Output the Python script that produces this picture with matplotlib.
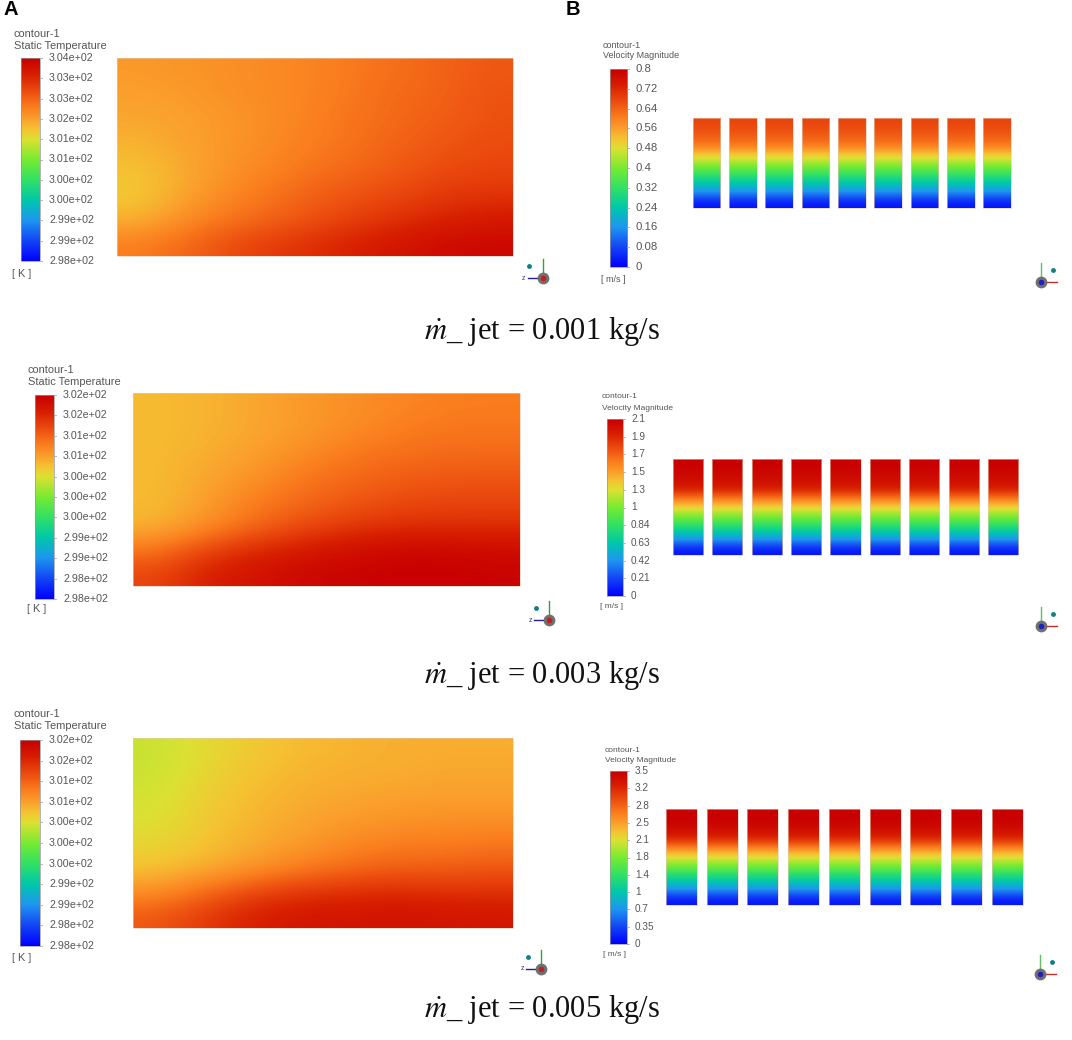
import numpy as np
import matplotlib
matplotlib.use("Agg")
import matplotlib.pyplot as plt
from matplotlib.colors import LinearSegmentedColormap

# ---------- data ----------
temp_labels_1 = ["3.04e+02", "3.03e+02", "3.03e+02", "3.02e+02", "3.01e+02", "3.01e+02",
                 "3.00e+02", "3.00e+02", "2.99e+02", "2.99e+02", "2.98e+02"]
temp_labels_2 = ["3.02e+02", "3.02e+02", "3.01e+02", "3.01e+02", "3.00e+02", "3.00e+02",
                 "3.00e+02", "2.99e+02", "2.99e+02", "2.98e+02", "2.98e+02"]
temp_labels_3 = ["3.02e+02", "3.02e+02", "3.01e+02", "3.01e+02", "3.00e+02", "3.00e+02",
                 "3.00e+02", "2.99e+02", "2.99e+02", "2.98e+02", "2.98e+02"]
vel_labels_1 = ["0.8", "0.72", "0.64", "0.56", "0.48", "0.4", "0.32", "0.24", "0.16", "0.08", "0"]
vel_labels_2 = ["2.1", "1.9", "1.7", "1.5", "1.3", "1", "0.84", "0.63", "0.42", "0.21", "0"]
vel_labels_3 = ["3.5", "3.2", "2.8", "2.5", "2.1", "1.8", "1.4", "1", "0.7", "0.35", "0"]
captions = ["0.001", "0.003", "0.005"]

# temperature fields as fraction of the colour scale (top row first)
temp_field_1 = [
    [.71, .72, .73, .74, .76, .78, .80, .82],
    [.70, .71, .73, .74, .76, .79, .80, .83],
    [.69, .70, .72, .74, .77, .79, .81, .83],
    [.67, .70, .72, .75, .77, .80, .82, .84],
    [.65, .69, .73, .76, .79, .81, .84, .85],
    [.64, .70, .75, .79, .82, .84, .87, .88],
    [.67, .74, .78, .81, .85, .88, .91, .93],
    [.76, .80, .85, .88, .91, .94, .97, .98],
]
temp_field_2 = [
    [.66, .67, .69, .71, .73, .74, .76, .76],
    [.66, .67, .69, .71, .73, .76, .77, .77],
    [.66, .68, .70, .73, .77, .78, .79, .79],
    [.66, .69, .72, .77, .79, .81, .82, .82],
    [.66, .70, .76, .79, .82, .84, .85, .85],
    [.67, .73, .79, .84, .87, .89, .89, .89],
    [.77, .85, .90, .93, .96, .98, .98, .97],
    [.85, .92, .95, .98, .99, 1.0, 1.0, .99],
]
temp_field_3 = [
    [.58, .61, .64, .66, .67, .68, .68, .68],
    [.58, .62, .65, .67, .68, .68, .69, .69],
    [.59, .63, .66, .68, .69, .70, .70, .70],
    [.60, .64, .67, .69, .71, .72, .73, .73],
    [.62, .65, .68, .71, .74, .76, .76, .77],
    [.65, .68, .72, .76, .79, .81, .81, .82],
    [.73, .79, .85, .88, .89, .90, .89, .89],
    [.82, .87, .92, .94, .95, .95, .95, .94],
]
# velocity profile along the bar height, as fraction of the colour scale (top first)
vel_profile_1 = [.85, .83, .80, .75, .64, .54, .44, .34, .25, .14, .03]
vel_profile_2 = [1.0, .98, .96, .91, .77, .63, .51, .40, .29, .16, .03]
vel_profile_3 = [1.0, .99, .96, .89, .74, .61, .50, .38, .28, .16, .03]

# ---------- style ----------
cmap_anchors = [(0, (0, 0, 255)), (.1, (20, 70, 245)), (.2, (30, 150, 240)), (.3, (0, 200, 170)),
                (.4, (50, 225, 100)), (.5, (120, 235, 50)), (.55, (170, 230, 50)),
                (.6, (220, 225, 50)), (.65, (245, 195, 50)), (.70, (250, 160, 45)),
                (.76, (250, 125, 30)), (.84, (235, 75, 15)), (.92, (215, 30, 0)), (1, (200, 0, 0))]
fluent = LinearSegmentedColormap.from_list(
    "fluent", [(p, tuple(c / 255 for c in rgb)) for p, rgb in cmap_anchors], N=512)
SANS = "Liberation Sans"
SERIF = "Liberation Serif"
plt.rcParams["mathtext.fontset"] = "stix"
TXT = "#555555"

fig = plt.figure(figsize=(10.72, 10.40), dpi=100)
ax = fig.add_axes([0, 0, 1, 1])
ax.set_xlim(0, 1072)
ax.set_ylim(1040, 0)
ax.axis("off")


def field(values, x0, x1, y0, y1, interp="bicubic"):
    ax.imshow(np.array(values), cmap=fluent, vmin=0, vmax=1, extent=(x0, x1, y1, y0),
              interpolation=interp, aspect="auto", zorder=2)
    ax.plot([x0, x1, x1, x0, x0], [y0, y0, y1, y1, y0], color="#e8c8b0", lw=0.6, alpha=.7, zorder=3)


def colorbar(labels, x0, x1, y0, y1, lab_x, head_x, head_y, unit, unit_x, unit_y, fs, head_fs):
    grad = np.linspace(1, 0, 256).reshape(-1, 1)
    ax.imshow(grad, cmap=fluent, vmin=0, vmax=1, extent=(x0, x1, y1, y0), aspect="auto", zorder=2)
    ax.plot([x0, x1, x1, x0, x0], [y0, y0, y1, y1, y0], color="#999999", lw=0.5, zorder=3)
    n = len(labels)
    for i, lab in enumerate(labels):
        y = y0 + (y1 - y0) * i / (n - 1)
        ax.plot([x1, x1 + 2], [y, y], color="#aaaaaa", lw=0.6, zorder=3)
        ax.text(lab_x, y, lab, fontsize=fs, family=SANS, color=TXT, va="center", ha="left")
    ax.text(head_x, head_y[0], "contour-1", fontsize=head_fs, family=SANS, color=TXT, va="center", ha="left")
    ax.text(head_x, head_y[1], head_y[2], fontsize=head_fs, family=SANS, color=TXT, va="center", ha="left")
    ax.text(unit_x, unit_y, unit, fontsize=head_fs, family=SANS, color=TXT, va="center", ha="left")


def triad_left(cx, cy):
    ax.plot([cx - 15, cx], [cy, cy], color="#20208a", lw=1.0, zorder=3)
    ax.text(cx - 17, cy, "z", fontsize=5, family=SANS, color="#333399", ha="right", va="center")
    ax.plot([cx, cx], [cy, cy - 19], color="#30a040", lw=1.0, zorder=3)
    ax.plot([cx - 13.5], [cy - 12.5], "o", ms=3.5, color="#108080", mec="none", zorder=3)
    ax.plot([cx], [cy], "o", ms=8.5, color="#707070", mec="none", zorder=3)
    ax.plot([cx], [cy], "o", ms=4, color="#c02020", mec="none", zorder=4)


def triad_right(cx, cy):
    ax.plot([cx, cx + 16], [cy, cy], color="#c03030", lw=1.0, zorder=3)
    ax.plot([cx, cx], [cy, cy - 19], color="#60c060", lw=1.0, zorder=3)
    ax.plot([cx + 11.5], [cy - 12], "o", ms=3.5, color="#108080", mec="none", zorder=3)
    ax.plot([cx], [cy], "o", ms=8.5, color="#707070", mec="none", zorder=3)
    ax.plot([cx], [cy], "o", ms=4, color="#2020c0", mec="none", zorder=4)


def bars(profile, x_first, width, pitch, y0, y1):
    col = np.array(profile).reshape(-1, 1)
    for k in range(9):
        x = x_first + k * pitch
        field(col, x, x + width, y0, y1)


# ---------- panel letters ----------
ax.text(4, 9.5, "A", fontsize=14.5, family=SANS, weight="bold", color="black", va="center", ha="left")
ax.text(566, 9.5, "B", fontsize=14.5, family=SANS, weight="bold", color="black", va="center", ha="left")

# ---------- row 1 ----------
colorbar(temp_labels_1, 21, 40, 58, 261, 49, 14, (34, 46, "Static Temperature"), "[ K ]", 12, 274, 7.7, 7.9)
field(temp_field_1, 117, 513, 58, 256)
triad_left(542.5, 278)
colorbar(vel_labels_1, 609.5, 627, 69, 267, 636, 603, (45, 56, "Velocity Magnitude"), "[ m/s ]", 601, 280, 8.2, 6.5)
bars(vel_profile_1, 692.7, 27.7, 36.3, 118, 208)
triad_right(1041, 282)

# ---------- row 2 ----------
colorbar(temp_labels_2, 35, 54, 395, 599, 63, 28, (370, 382, "Static Temperature"), "[ K ]", 27, 609, 7.7, 7.9)
field(temp_field_2, 133, 520, 393, 586)
triad_left(549, 620)
colorbar(vel_labels_2, 607, 623, 419, 596, 631, 602, (397, 408, "Velocity Magnitude"), "[ m/s ]", 600, 606, 7.2, 6.0)
bars(vel_profile_2, 672.7, 30.3, 39.4, 459, 555)
triad_right(1041, 626)

# ---------- row 3 ----------
colorbar(temp_labels_3, 19.5, 39.5, 740, 946, 49, 14, (714, 726, "Static Temperature"), "[ K ]", 12, 958, 7.7, 7.9)
field(temp_field_3, 133, 513, 738, 928)
triad_left(541, 969)
colorbar(vel_labels_3, 610, 626.5, 771, 944, 635, 605, (750, 760, "Velocity Magnitude"), "[ m/s ]", 603, 955, 7.2, 6.0)
bars(vel_profile_3, 666, 31, 40.7, 809, 905)
triad_right(1040, 974)

# ---------- captions ----------
for cap, y in zip(captions, (331, 675, 1010)):
    ax.text(541.5, y, r"$\dot{m}$_ jet = " + cap + " kg/s", fontsize=22, family=SERIF,
            color="#111111", ha="center", va="center")

ax.set_xlim(0, 1072)
ax.set_ylim(1040, 0)
fig.savefig("out.png", dpi=100, facecolor="white")
